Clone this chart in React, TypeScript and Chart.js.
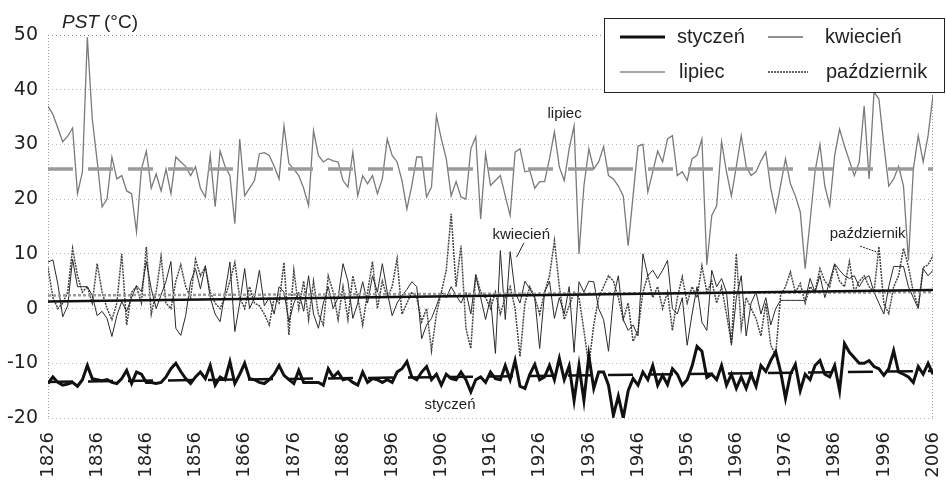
import { useEffect, useRef } from "react";
import { Chart, registerables } from "chart.js";

Chart.register(...registerables);

// ---- DATA ----
const FIRST_YEAR = 1826;
const LAST_YEAR = 2006;
const X_TICK_STEP = 10;
const Y_MIN = -20;
const Y_MAX = 50;
const Y_STEP = 10;

const seriesNames = ["styczeń", "kwiecień", "lipiec", "październik"];

// styczeń (January) PST, 1826-2006
const styczen = [
  -13.7, -12.5, -13.5, -14, -13.8, -13.5, -14.2, -13, -10.4, -12.8,
  -13, -13.2, -13, -13.5, -13.7, -12.8, -11.3, -13.7, -11.6, -12,
  -13.5, -13.5, -13.7, -13.5, -12.5, -11, -10, -11.5, -12.8, -13.7,
  -12.5, -11.6, -12.8, -10.4, -14, -12.5, -13, -9.7, -13.7, -12,
  -10, -12.8, -13, -13.5, -13.7, -13, -12, -10.4, -12.2, -13,
  -13.7, -11.3, -13.5, -13.5, -13.5, -13.5, -14, -11, -12.5, -11.6,
  -13, -12.8, -13.5, -14, -11.6, -13.5, -12.8, -13, -13.5, -13,
  -13.5, -11.6, -11, -9.7, -12.5, -13, -11.6, -10.6, -13, -12,
  -14, -12, -12.8, -13, -11.6, -13, -15.2, -13, -12.5, -13.5,
  -11.6, -12.8, -13, -10.4, -13, -9.5, -14.2, -14.6, -12, -10.2,
  -13, -12.5, -10.4, -13, -9.1, -13, -10.5, -16.8, -10.4, -16.8,
  -8.6, -14.6, -11.6, -11.6, -14, -19.5, -16, -20, -15, -12.8,
  -14, -11.6, -13, -10.4, -14, -12.2, -13.9, -11, -12, -14,
  -13, -10.5, -6.9, -7.8, -12.6, -12, -13, -10.4, -14, -12,
  -14.6, -12.5, -14.6, -12, -14.2, -10.4, -11.5, -9.5, -7.9, -11.5,
  -16.4, -12, -10.2, -15, -12, -13, -10.4, -9.5, -12, -12.5,
  -10.4, -15, -6.4, -8, -9, -10, -10, -9.5, -10.6, -11,
  -12.2, -11, -7.7, -11.6, -12, -12.5, -13.5, -10.6, -12, -10, -12,
];

// kwiecień (April)
const kwiecien = [
  8.5, 8.9, 4.5, -1.5, 0.5, 9, 4, 4, 4, 2.4,
  -1.3, -0.5, -1.8, -5.1, -1.3, 1.3, -0.5, 2, 4.2, 3.1,
  8.6, 3.6, 0, 2.5, 5, 8.6, -3.6, -4.9, -1.3, 4.9,
  7.3, 3.6, 7.8, 2, -1, -2.4, 3, 8.5, -4.2, 1,
  7.3, 0, 2, 7, 0.5, 2, -1, 4, 3, -2.4,
  1, 3, -0.5, 6, -1, -3.6, 1, 4, 0, 2,
  8.2, 5, -1.8, 1, 4.9, 1, 6, 3, 8.2, 3,
  -1.3, 1, 2.4, 3.5, 4.9, 4, -5.5, -3, -1.8, 0.5,
  3, 2, 4, 2.4, 1, 3, -1, 6, 2, -2,
  2, -8.2, 10.6, -2, 10.4, 3, 1, 5, 3.6, 2,
  -7.3, 3, 5, -1.8, 2, -1, 4, -8, 4.9, 3,
  5, 4.9, 0, -2, -7.8, 2, 6, -2, -4, -3,
  -5, 10, 6, 7, 5.5, 7, 8.8, 0, -1, 2,
  -6.7, -1, 4, -2.5, -4, 7, 4, 5.5, 3, -6.7,
  2, 6, -5, 1, 3, -1, 2, -3, 0, 1.5,
  1.5, 1.5, 1.5, 1.5, 1.5, 5.5, 3, 6, 2, 5,
  8.2, 7, 6, 5.5, 6, 4, 5.5, 6, 3, 1,
  -1, 4, 7.7, 7.7, 7.7, 4, 2, 0, 7.3, 6, 7,
];

// lipiec (July)
const lipiec = [
  37, 35.5, 33, 30.5, 31.5, 33, 21, 25, 49.6, 34.7,
  27, 18.6, 20, 27.7, 23.7, 24.3, 21.5, 21, 14, 25.5,
  28.8, 22, 24.6, 21.5, 25.5, 21, 27.7, 26.8, 26, 24.3,
  25.9, 22, 20.4, 28, 18.6, 28.8, 26, 24.3, 15.5, 31,
  20.6, 22, 23.4, 28.3, 28.5, 28, 26, 23.7, 33.4, 26.5,
  25.5, 24.3, 22, 18.8, 32.5, 28, 26.8, 27.4, 27, 26.8,
  23.4, 22.2, 28.6, 20.6, 24.3, 22.8, 24.3, 21, 23.7, 31,
  28, 26.8, 23.4, 18.2, 22.5, 27.7, 27.7, 20.4, 22.2, 35.2,
  31, 27.4, 20.6, 23.2, 20.4, 20, 29.2, 31.4, 16.4, 28.3,
  22.5, 23.4, 24.3, 20.6, 17, 28.6, 29.2, 25, 25.2, 22,
  23.2, 23.2, 27.4, 32.3, 25.9, 23.4, 29.2, 33.4, 10, 22.4,
  29.2, 25.5, 26.8, 29.6, 24.3, 23.7, 22.4, 20.6, 11.5, 20.6,
  29.7, 30, 21.3, 25, 28.8, 26.8, 31, 31.6, 24.3, 25,
  23.4, 27.4, 28, 31, 8, 17, 18.8, 30.5, 25, 20.6,
  26, 31.6, 26, 24.3, 25, 27, 28.6, 22, 17.7, 22.5,
  27.4, 22.8, 20.6, 17.7, 7.3, 16, 25, 30, 22.4, 18.8,
  28, 32.8, 29.7, 27, 24.3, 26.8, 37, 23.7, 39.6, 38.3,
  30, 22.4, 23.7, 26, 22.4, 8.8, 25.5, 31.6, 26.8, 31.6, 39,
];

// październik (October)
const pazdziernik = [
  7.5, 2, 0, 1, 3, 11, 6, 3, 4, 1,
  8.2, 3, 0, -2, 1, 10, -3, 3, 4, 1,
  11.3, -1, 3, 9.5, 1, 0, 5, 8, 4, 2,
  9, 6, 7.6, 3, 1, 0, 2, 5, 8.4, 2,
  0, 4, 1, 0.5, -1, -3, 2, 1, 8.4, -4.8,
  7, 0, 5, -2, 5, -1, -3, 6, 3, -2,
  4, -2, 6, 2, -3, 3, 8.6, 0, 5, 2,
  4, 9.1, -1, 1, 3, 2, -2.4, 0, -7.7, -1,
  3, 7, 17.3, 4, 11.5, -3.6, -7.3, 6.3, 3, 2,
  0, 3, -1, 2, 4, 0, -8.8, 1, 4, 2,
  -1, 3, 6, 12.4, 4, -2, 0.5, 3, 2, -4,
  -10.4, -3, 2, 4, 6, 5, 2, -2, 1, -6,
  -4, 3, 6, 2, 4, 0, 3, -4, 2, 5.8,
  1, 4, 2, 7.8, 3, 5, 1, 4, -1, -6.4,
  10, -3.6, 2, 0, -1.8, -5, 1, -6.7, -8.5, 2.4,
  4, 6.7, 3, 4.6, 1, 4, 3, 7.3, 5, 4,
  8, 5, 4, 8.6, 3, 5, 6, 4, 3, 11.3,
  0.9, -0.9, 4, 6, 11, 7.7, 3, 0.4, 7.5, 8, 9.7,
];

// mean / trend lines (start and end values)
const trendYears = [1826, 2006];
const lipiecMean = [25.5, 25.5];
const styczenTrend = [-13.4, -11.4];
const kwiecienTrend = [1.3, 3.4];
const pazdziernikMean = [2.4, 3.0];

// in-chart labels, anchored at (year, value)
const annotationLabels = [
  { text: "lipiec", year: 1927.6, value: 34.9 },
  { text: "kwiecień", year: 1916.4, value: 12.7 },
  { text: "październik", year: 1985.0, value: 12.9 },
  { text: "styczeń", year: 1902.6, value: -18.3 },
];
const leaderLines = [
  { from: [1922.8, 12.0], to: [1921.3, 9.4], dash: [] as number[] },
  { from: [1991.2, 11.4], to: [1994.7, 10.3], dash: [2, 1] },
];

const years = Array.from({ length: LAST_YEAR - FIRST_YEAR + 1 }, (_, i) => FIRST_YEAR + i);
const toPoints = (vals: number[], xs: number[]) => vals.map((v, i) => ({ x: xs[i], y: v }));

const LABEL_FONT = '"Liberation Sans", Arial, sans-serif';
const TICK_FONT = '"DejaVu Sans", sans-serif';

const decorPlugin = {
  id: "decor",
  beforeDatasetsDraw(chart: any) {
    const { ctx, chartArea: a } = chart;
    ctx.save();
    ctx.strokeStyle = "#9a9a9a";
    ctx.lineWidth = 1;
    ctx.setLineDash([1, 2]);
    ctx.beginPath();
    ctx.moveTo(a.left + 0.5, a.top);
    ctx.lineTo(a.left + 0.5, a.bottom);
    ctx.moveTo(a.right - 0.5, a.top);
    ctx.lineTo(a.right - 0.5, a.bottom);
    ctx.stroke();
    ctx.restore();
  },
  afterDraw(chart: any) {
    const { ctx } = chart;
    const xs = chart.scales.x;
    const ys = chart.scales.y;
    ctx.save();

    // in-chart labels
    ctx.fillStyle = "#222";
    ctx.font = `15px ${LABEL_FONT}`;
    ctx.textAlign = "left";
    ctx.textBaseline = "alphabetic";
    for (const l of annotationLabels) {
      ctx.fillText(l.text, xs.getPixelForValue(l.year), ys.getPixelForValue(l.value));
    }
    ctx.strokeStyle = "#222";
    ctx.lineWidth = 1;
    for (const ln of leaderLines) {
      ctx.setLineDash(ln.dash);
      ctx.beginPath();
      ctx.moveTo(xs.getPixelForValue(ln.from[0]), ys.getPixelForValue(ln.from[1]));
      ctx.lineTo(xs.getPixelForValue(ln.to[0]), ys.getPixelForValue(ln.to[1]));
      ctx.stroke();
    }
    ctx.setLineDash([]);

    // axis title
    ctx.fillStyle = "#222";
    ctx.font = `italic 19px ${LABEL_FONT}`;
    ctx.fillText("PST", 62, 28);
    ctx.font = `19px ${LABEL_FONT}`;
    ctx.fillText("(°C)", 104, 28);

    // legend box
    const bx = 604.5, by = 18.5, bw = 340, bh = 74;
    ctx.fillStyle = "#fff";
    ctx.fillRect(bx, by, bw, bh);
    ctx.strokeStyle = "#222";
    ctx.lineWidth = 1;
    ctx.strokeRect(bx, by, bw, bh);

    const items = [
      { name: seriesNames[0], x1: 620, x2: 665, y: 37, tx: 677, ty: 43, color: "#111", w: 3, dash: [] as number[] },
      { name: seriesNames[1], x1: 768, x2: 803, y: 37, tx: 825, ty: 43, color: "#222", w: 1, dash: [] as number[] },
      { name: seriesNames[2], x1: 620, x2: 665, y: 72, tx: 679, ty: 78, color: "#8a8a8a", w: 1.5, dash: [] as number[] },
      { name: seriesNames[3], x1: 768, x2: 808, y: 72, tx: 826, ty: 78, color: "#333", w: 1.5, dash: [2, 1] },
    ];
    ctx.font = `20px ${LABEL_FONT}`;
    for (const it of items) {
      ctx.strokeStyle = it.color;
      ctx.lineWidth = it.w;
      ctx.setLineDash(it.dash);
      ctx.beginPath();
      ctx.moveTo(it.x1, it.y);
      ctx.lineTo(it.x2, it.y);
      ctx.stroke();
      ctx.setLineDash([]);
      ctx.fillStyle = "#222";
      ctx.fillText(it.name, it.tx, it.ty);
    }
    ctx.restore();
  },
};

export default function App() {
  const ref = useRef<HTMLCanvasElement>(null);

  useEffect(() => {
    if (!ref.current) return;
    const line = (data: any, color: string, width: number, dash: number[] = []) => ({
      data,
      borderColor: color,
      backgroundColor: color,
      borderWidth: width,
      borderDash: dash,
      pointRadius: 0,
      tension: 0,
      fill: false,
    });

    const chart = new Chart(ref.current, {
      type: "line",
      data: {
        datasets: [
          { label: seriesNames[0], ...line(toPoints(styczen, years), "#111", 3) },
          { label: "trend kwiecień", ...line(toPoints(kwiecienTrend, trendYears), "#111", 2.5) },
          { label: "trend styczeń", ...line(toPoints(styczenTrend, trendYears), "#111", 2.5, [25, 15]) },
          { label: "średnia lipiec", ...line(toPoints(lipiecMean, trendYears), "#9a9a9a", 3.5, [25, 15]) },
          { label: "średnia październik", ...line(toPoints(pazdziernikMean, trendYears), "#9a9a9a", 2.5, [3, 2]) },
          { label: seriesNames[1], ...line(toPoints(kwiecien, years), "#2a2a2a", 1) },
          { label: seriesNames[3], ...line(toPoints(pazdziernik, years), "#444", 1.5, [2, 1]) },
          { label: seriesNames[2], ...line(toPoints(lipiec, years), "#7a7a7a", 1.3) },
        ] as any,
      },
      options: {
        responsive: false,
        animation: false,
        events: [],
        layout: { padding: { top: 35, right: 13, left: 0, bottom: 0 } },
        plugins: {
          legend: { display: false },
          tooltip: { enabled: false },
          title: { display: false },
        },
        scales: {
          x: {
            type: "linear",
            min: FIRST_YEAR,
            max: LAST_YEAR,
            grid: { display: false, drawTicks: false },
            border: { display: false },
            afterFit: (s: any) => {
              s.height = 62;
              s.paddingLeft = 0;
              s.paddingRight = 0;
            },
            ticks: {
              stepSize: X_TICK_STEP,
              autoSkip: false,
              maxRotation: 90,
              minRotation: 90,
              padding: 14,
              color: "#222",
              font: { family: TICK_FONT, size: 18 },
              callback: (v: any) => String(v),
            },
          },
          y: {
            type: "linear",
            min: Y_MIN,
            max: Y_MAX,
            afterFit: (s: any) => {
              s.width = 48;
              s.paddingTop = 0;
              s.paddingBottom = 0;
            },
            grid: {
              drawTicks: false,
              color: (c: any) => (c.tick && c.tick.value === Y_MAX ? "#888" : "#b5b5b5"),
              lineWidth: 1,
            },
            border: { display: false, dash: [1, 3] },
            ticks: {
              stepSize: Y_STEP,
              padding: 10,
              color: "#222",
              font: { family: TICK_FONT, size: 19 },
              callback: (v: any) => String(v),
            },
          },
        },
      },
      plugins: [decorPlugin],
    });
    return () => chart.destroy();
  }, []);

  return (
    <div style={{ position: "absolute", left: 0, top: 0, width: 946, height: 480, background: "#fff" }}>
      <canvas ref={ref} width={946} height={480} style={{ display: "block" }} />
    </div>
  );
}
